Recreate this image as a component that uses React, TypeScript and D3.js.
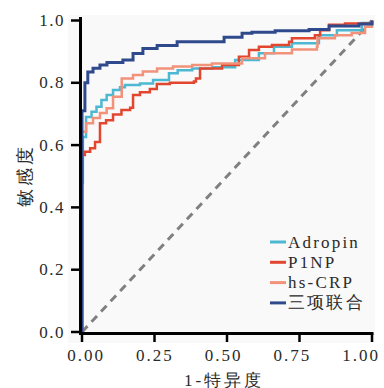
import React from "react";
import * as d3 from "d3";

const seriesNames = ["Adropin", "P1NP", "hs-CRP", "三项联合"];
const seriesColors = ["#4db8d2", "#e2462f", "#f2927b", "#2f4a8c"];

const adropin: [number, number][] = [
  [0, 0], [0, 0.478], [0.003, 0.626], [0.014, 0.69], [0.033, 0.707], [0.05, 0.723],
  [0.067, 0.745], [0.085, 0.761], [0.107, 0.777], [0.131, 0.786], [0.148, 0.793],
  [0.2, 0.798], [0.245, 0.809], [0.3, 0.831], [0.33, 0.84], [0.38, 0.846], [0.45, 0.85],
  [0.528, 0.873], [0.61, 0.895], [0.662, 0.916], [0.724, 0.927], [0.817, 0.953],
  [0.879, 0.969], [0.965, 0.992], [1, 1],
];
const p1np: [number, number][] = [
  [0, 0], [0, 0.568], [0.01, 0.579], [0.028, 0.59], [0.045, 0.61], [0.062, 0.67],
  [0.083, 0.68], [0.107, 0.698], [0.136, 0.713], [0.166, 0.72], [0.176, 0.761],
  [0.2, 0.77], [0.234, 0.78], [0.258, 0.796], [0.303, 0.8], [0.386, 0.804],
  [0.393, 0.814], [0.407, 0.846], [0.483, 0.857], [0.541, 0.884], [0.576, 0.905],
  [0.61, 0.916], [0.655, 0.921], [0.714, 0.932], [0.724, 0.943], [0.803, 0.953],
  [0.821, 0.969], [0.852, 0.986], [0.907, 0.99], [1, 1],
];
const hsCrp: [number, number][] = [
  [0, 0], [0, 0.643], [0.014, 0.67], [0.038, 0.687], [0.062, 0.703], [0.085, 0.718],
  [0.107, 0.755], [0.137, 0.814], [0.176, 0.825], [0.21, 0.836], [0.259, 0.846],
  [0.314, 0.852], [0.38, 0.857], [0.448, 0.862], [0.552, 0.879], [0.631, 0.895],
  [0.724, 0.907], [0.81, 0.916], [0.812, 0.943], [0.872, 0.953], [0.93, 0.96],
  [0.976, 0.98], [1, 1],
];
const combined: [number, number][] = [
  [0, 0], [0, 0.71], [0.01, 0.8], [0.02, 0.835], [0.038, 0.847], [0.062, 0.857],
  [0.086, 0.865], [0.141, 0.873], [0.176, 0.894], [0.21, 0.91], [0.259, 0.92],
  [0.328, 0.932], [0.49, 0.946], [0.552, 0.959], [0.586, 0.962], [0.666, 0.967],
  [0.783, 0.971], [0.852, 0.982], [0.955, 0.989], [1, 1],
];
const seriesData = [adropin, p1np, hsCrp, combined];

const xTicks = [0, 0.25, 0.5, 0.75, 1];
const yTicks = [0, 0.2, 0.4, 0.6, 0.8, 1];

const W = 384, H = 388;
const serif = "'Liberation Serif', 'Times New Roman', serif";

export default function App() {
  const x = d3.scaleLinear().domain([0, 1]).range([82, 372]);
  const xLabel = d3.scaleLinear().domain([0, 1]).range([86, 361]);
  const y = d3.scaleLinear().domain([0, 1]).range([332, 20.5]);
  const line = d3
    .line<[number, number]>()
    .x((d) => x(d[0]))
    .y((d) => y(d[1]))
    .curve(d3.curveStepAfter);
  const diag = d3.line<[number, number]>().x((d) => x(d[0])).y((d) => y(d[1]));
  const widths = [2.5, 2.5, 2.5, 3];

  return (
    <svg width={W} height={H} style={{ position: "absolute", left: 0, top: 0 }}>
      <rect x={68} y={15} width={307} height={328} fill="#f9f9f9" />
      <path
        d={diag([[0, 0], [1, 1]]) || ""}
        stroke="#808080"
        strokeWidth={3}
        strokeDasharray="8,6"
        fill="none"
      />
      {seriesData.map((s, i) => (
        <path
          key={i}
          d={line(s) || ""}
          stroke={seriesColors[i]}
          strokeWidth={widths[i]}
          fill="none"
          strokeLinejoin="miter"
        />
      ))}
      {/* axes */}
      <line x1={x(0) - 1.5} x2={x(0) - 1.5} y1={17} y2={y(0) + 1.5} stroke="#000" strokeWidth={3} />
      <line x1={x(0) - 3} x2={x(1) + 1.5} y1={y(0) + 1.5} y2={y(0) + 1.5} stroke="#000" strokeWidth={3} />
      {yTicks.map((t) => (
        <g key={"y" + t}>
          <line x1={x(0) - 11} x2={x(0) - 1.5} y1={y(t)} y2={y(t)} stroke="#000" strokeWidth={2.5} />
          <text
            x={65}
            y={y(t)}
            textAnchor="end"
            dominantBaseline="central"
            fontFamily={serif}
            fontSize={17}
            letterSpacing={1.5}
            fill="#2a2a2a"
          >
            {t.toFixed(1)}
          </text>
        </g>
      ))}
      {xTicks.map((t) => (
        <g key={"x" + t}>
          <line x1={x(t)} x2={x(t)} y1={y(0) + 1.5} y2={y(0) + 10} stroke="#000" strokeWidth={2.5} />
          <text
            x={xLabel(t)}
            y={355}
            textAnchor="middle"
            dominantBaseline="central"
            fontFamily={serif}
            fontSize={17}
            letterSpacing={2}
            fill="#2a2a2a"
          >
            {t.toFixed(2)}
          </text>
        </g>
      ))}
      <text
        x={224}
        y={380}
        textAnchor="middle"
        dominantBaseline="central"
        fontFamily={serif}
        fontSize={17}
        letterSpacing={3}
        fill="#2a2a2a"
      >
        1-特异度
      </text>
      <text
        transform={`translate(25,175) rotate(-90)`}
        textAnchor="middle"
        dominantBaseline="central"
        fontFamily={serif}
        fontSize={18}
        letterSpacing={3}
        fill="#2a2a2a"
      >
        敏感度
      </text>
      {/* legend */}
      {seriesNames.map((n, i) => (
        <g key={n} transform={`translate(270,${242 + i * 20.3})`}>
          <line x1={0} x2={16} y1={0} y2={0} stroke={seriesColors[i]} strokeWidth={3} />
          <text
            x={18}
            y={0}
            dominantBaseline="central"
            fontFamily={serif}
            fontSize={17}
            letterSpacing={2.2}
            fill="#2a2a2a"
          >
            {n}
          </text>
        </g>
      ))}
    </svg>
  );
}
